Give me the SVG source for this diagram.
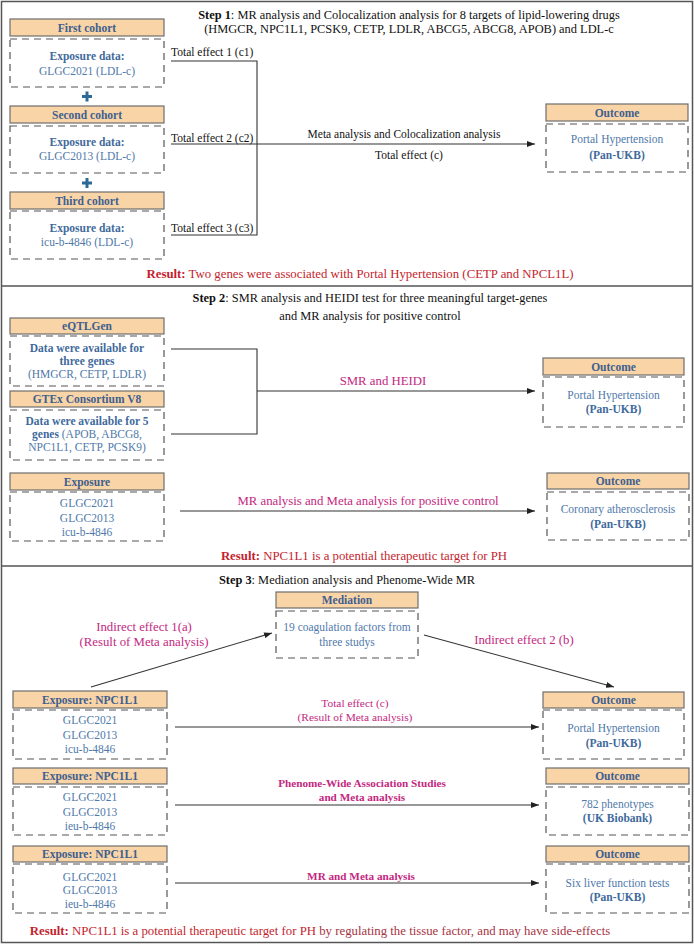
<svg xmlns="http://www.w3.org/2000/svg" width="694" height="944" viewBox="0 0 694 944" font-family="'Liberation Serif', 'Times New Roman', serif">
<defs>
<marker id="ah" viewBox="0 0 8 6" refX="8" refY="3" markerWidth="8" markerHeight="6" markerUnits="userSpaceOnUse" orient="auto">
<path d="M0,0 L8,3 L0,6 Z" fill="#222"/>
</marker>
<style>
text{font-family:"Liberation Serif","Times New Roman",serif;}
.hd{fill:#f8d4a6;stroke:#6e6e6e;stroke-width:1.2;}
.hdt{font-size:11.5px;font-weight:bold;fill:#3f5f8f;text-anchor:middle;}
.db{fill:#fff;stroke:#555;stroke-width:1.2;stroke-dasharray:7 5;}
.bt{font-size:11.5px;fill:#4f79aa;text-anchor:middle;}
.bb{font-weight:bold;fill:#3f6a9c;}
.ttl{font-size:12.4px;fill:#111;text-anchor:middle;}
.lbl{font-size:11.5px;fill:#111;}
.mg{font-size:12.8px;fill:#c4287f;text-anchor:middle;}
.mgs{font-size:11.4px;}
.mgb{font-size:11.2px;font-weight:bold;}
.res{font-size:12.8px;fill:#c41e2e;text-anchor:middle;}
.ln{fill:none;stroke:#333;stroke-width:1.1;}
.ar{fill:none;stroke:#333;stroke-width:1.1;marker-end:url(#ah);}
.frame{fill:none;stroke:#555;stroke-width:1.5;}
.plus{fill:#2e6a98;}
</style>
</defs>
<rect class="frame" x="1.5" y="1.5" width="691" height="941"/>
<line x1="1.5" y1="286" x2="692.5" y2="286" stroke="#555" stroke-width="1.5"/>
<line x1="1.5" y1="566" x2="692.5" y2="566" stroke="#555" stroke-width="1.5"/>

<!-- Step 1 -->
<g id="step1-title">
<text class="ttl" x="409" y="19"><tspan font-weight="bold">Step 1</tspan>: MR analysis and Colocalization analysis for 8 targets of lipid-lowering drugs</text>
<text class="ttl" x="409" y="33">(HMGCR, NPC1L1, PCSK9, CETP, LDLR, ABCG5, ABCG8, APOB) and LDL-c</text>
</g>
<g id="first-cohort">
<rect class="hd" x="10" y="19" width="154" height="17"/>
<text class="hdt" x="87" y="31.5">First cohort</text>
<rect class="db" x="10" y="39" width="154" height="48"/>
<text class="bt bb" x="87" y="60" textLength="75" lengthAdjust="spacingAndGlyphs">Exposure data:</text>
<text class="bt" x="87" y="75">GLGC2021 (LDL-c)</text>
</g>
<g id="plus1"><rect class="plus" x="82" y="95" width="10" height="3"/><rect class="plus" x="85.5" y="91.5" width="3" height="10"/></g>
<g id="second-cohort">
<rect class="hd" x="10" y="106" width="154" height="17"/>
<text class="hdt" x="87" y="118.5">Second cohort</text>
<rect class="db" x="10" y="126" width="154" height="47"/>
<text class="bt bb" x="87" y="146" textLength="75" lengthAdjust="spacingAndGlyphs">Exposure data:</text>
<text class="bt" x="87" y="160">GLGC2013 (LDL-c)</text>
</g>
<g id="plus2"><rect class="plus" x="82" y="181.5" width="10" height="3"/><rect class="plus" x="85.5" y="178" width="3" height="10"/></g>
<g id="third-cohort">
<rect class="hd" x="10" y="192" width="154" height="17"/>
<text class="hdt" x="87" y="204.5">Third cohort</text>
<rect class="db" x="10" y="211" width="154" height="48"/>
<text class="bt bb" x="87" y="232" textLength="75" lengthAdjust="spacingAndGlyphs">Exposure data:</text>
<text class="bt" x="87" y="246">icu-b-4846 (LDL-c)</text>
</g>
<g id="outcome1">
<rect class="hd" x="546" y="104" width="142" height="17"/>
<text class="hdt" x="617" y="116.5">Outcome</text>
<rect class="db" x="546" y="124" width="142" height="48"/>
<text class="bt" x="617" y="143">Portal Hypertension</text>
<text class="bt bb" x="617" y="159">(Pan-UKB)</text>
</g>

<!-- Step 2 -->
<g id="step2-title">
<text class="ttl" x="370" y="302"><tspan font-weight="bold">Step 2</tspan>: SMR analysis and HEIDI test for three meaningful target-genes</text>
<text class="ttl" x="370" y="320">and MR analysis for positive control</text>
</g>
<g id="eqtlgen">
<rect class="hd" x="10" y="318" width="154" height="16"/>
<text class="hdt" x="87" y="330">eQTLGen</text>
<rect class="db" x="10" y="336" width="154" height="50"/>
<text class="bt bb" x="87" y="352">Data were available for</text>
<text class="bt bb" x="87" y="365">three genes</text>
<text class="bt" x="87" y="378">(HMGCR, CETP, LDLR)</text>
</g>
<g id="gtex">
<rect class="hd" x="10" y="391" width="154" height="16"/>
<text class="hdt" x="87" y="403">GTEx Consortium V8</text>
<rect class="db" x="10" y="410" width="154" height="50"/>
<text class="bt bb" x="87" y="425">Data were available for 5</text>
<text class="bt" x="87" y="438"><tspan class="bb">genes</tspan> (APOB, ABCG8,</text>
<text class="bt" x="87" y="451">NPC1L1, CETP, PCSK9)</text>
</g>
<g id="outcome2">
<rect class="hd" x="543" y="358" width="141" height="17"/>
<text class="hdt" x="613.5" y="370.5">Outcome</text>
<rect class="db" x="543" y="377" width="141" height="50"/>
<text class="bt" x="613.5" y="399">Portal Hypertension</text>
<text class="bt bb" x="613.5" y="413">(Pan-UKB)</text>
</g>
<g id="exposure2">
<rect class="hd" x="10" y="473" width="154" height="17"/>
<text class="hdt" x="87" y="485.5">Exposure</text>
<rect class="db" x="10" y="492" width="154" height="49"/>
<text class="bt" x="87" y="507">GLGC2021</text>
<text class="bt" x="87" y="522">GLGC2013</text>
<text class="bt" x="87" y="536">icu-b-4846</text>
</g>
<g id="outcome-coronary">
<rect class="hd" x="547" y="473" width="142" height="16"/>
<text class="hdt" x="618" y="485">Outcome</text>
<rect class="db" x="547" y="492" width="142" height="48"/>
<text class="bt" x="618" y="513">Coronary atherosclerosis</text>
<text class="bt bb" x="618" y="528">(Pan-UKB)</text>
</g>

<!-- Step 3 -->
<g id="step3-title">
<text class="ttl" x="347" y="584"><tspan font-weight="bold">Step 3</tspan>: Mediation analysis and Phenome-Wide MR</text>
</g>
<g id="mediation">
<rect class="hd" x="276" y="592" width="142" height="16"/>
<text class="hdt" x="347" y="604">Mediation</text>
<rect class="db" x="276" y="611" width="142" height="47"/>
<text class="bt" x="347" y="631">19 coagulation factors from</text>
<text class="bt" x="347" y="646">three studys</text>
</g>
<g id="exposure3a">
<rect class="hd" x="13" y="691" width="154" height="17"/>
<text class="hdt" x="90" y="703.5">Exposure: NPC1L1</text>
<rect class="db" x="13" y="710" width="154" height="49"/>
<text class="bt" x="90" y="724">GLGC2021</text>
<text class="bt" x="90" y="739">GLGC2013</text>
<text class="bt" x="90" y="753">icu-b-4846</text>
</g>
<g id="outcome3a">
<rect class="hd" x="543" y="692" width="141" height="16"/>
<text class="hdt" x="613.5" y="704">Outcome</text>
<rect class="db" x="543" y="710" width="141" height="49"/>
<text class="bt" x="613.5" y="732">Portal Hypertension</text>
<text class="bt bb" x="613.5" y="747">(Pan-UKB)</text>
</g>
<g id="exposure3b">
<rect class="hd" x="13" y="768" width="154" height="16"/>
<text class="hdt" x="90" y="780">Exposure: NPC1L1</text>
<rect class="db" x="13" y="787" width="154" height="48"/>
<text class="bt" x="90" y="801">GLGC2021</text>
<text class="bt" x="90" y="816">GLGC2013</text>
<text class="bt" x="90" y="830">ieu-b-4846</text>
</g>
<g id="outcome3b">
<rect class="hd" x="546" y="768" width="143" height="16"/>
<text class="hdt" x="617.5" y="780">Outcome</text>
<rect class="db" x="546" y="787" width="143" height="48"/>
<text class="bt" x="617.5" y="808">782 phenotypes</text>
<text class="bt bb" x="617.5" y="822">(UK Biobank)</text>
</g>
<g id="exposure3c">
<rect class="hd" x="13" y="846" width="154" height="16"/>
<text class="hdt" x="90" y="858">Exposure: NPC1L1</text>
<rect class="db" x="13" y="864" width="154" height="49"/>
<text class="bt" x="90" y="881">GLGC2021</text>
<text class="bt" x="90" y="894">GLGC2013</text>
<text class="bt" x="90" y="908">ieu-b-4846</text>
</g>
<g id="outcome3c">
<rect class="hd" x="546" y="846" width="143" height="16"/>
<text class="hdt" x="617.5" y="858">Outcome</text>
<rect class="db" x="546" y="864" width="143" height="49"/>
<text class="bt" x="617.5" y="887">Six liver function tests</text>
<text class="bt bb" x="617.5" y="901">(Pan-UKB)</text>
</g>

<!-- Connectors -->
<g id="connectors">
<path class="ln" d="M171,61 H257 V235 H171"/>
<path class="ar" d="M171,144 H535"/>
<path class="ln" d="M171,349 H257 V434 H171"/>
<path class="ar" d="M257,391 H535"/>
<path class="ar" d="M180,511 H535"/>
<path class="ar" d="M91,687 L272,633"/>
<path class="ar" d="M424,635 L614,687"/>
<path class="ar" d="M175,727 H539"/>
<path class="ar" d="M175,805 H539"/>
<path class="ar" d="M175,883 H539"/>
</g>

<!-- Connector labels -->
<g id="labels">
<text class="lbl" x="171" y="56">Total effect 1 (c1)</text>
<text class="lbl" x="171" y="142">Total effect 2 (c2)</text>
<text class="lbl" x="171" y="232">Total effect 3 (c3)</text>
<text class="lbl" x="404" y="138" text-anchor="middle">Meta analysis and Colocalization analysis</text>
<text class="lbl" x="409" y="159" text-anchor="middle">Total effect (c)</text>
<text class="mg" x="383" y="385">SMR and HEIDI</text>
<text class="mg" x="368" y="505">MR analysis and Meta analysis for positive control</text>
<text class="mg" x="144" y="631">Indirect effect 1(a)</text>
<text class="mg" x="144" y="646">(Result of Meta analysis)</text>
<text class="mg" x="524" y="644">Indirect effect 2 (b)</text>
<text class="mg mgs" x="355" y="707">Total effect (c)</text>
<text class="mg mgs" x="355" y="721">(Result of Meta analysis)</text>
<text class="mg mgb" x="362" y="787">Phenome-Wide Association Studies</text>
<text class="mg mgb" x="362" y="801">and Meta analysis</text>
<text class="mg mgb" x="361" y="880">MR and Meta analysis</text>
</g>

<!-- Results -->
<g id="results">
<text class="res" x="360" y="278"><tspan font-weight="bold">Result:</tspan> Two genes were associated with Portal Hypertension (CETP and NPCL1L)</text>
<text class="res" x="364" y="560"><tspan font-weight="bold">Result:</tspan> NPC1L1 is a potential therapeutic target for PH</text>
<text class="res" x="320" y="935" font-size="12.7px"><tspan font-weight="bold">Result:</tspan> NPC1L1 is a potential therapeutic target for PH <tspan fill="#a8343f">by regulating  the tissue factor, and may have  side-effects</tspan></text>
</g>
</svg>
